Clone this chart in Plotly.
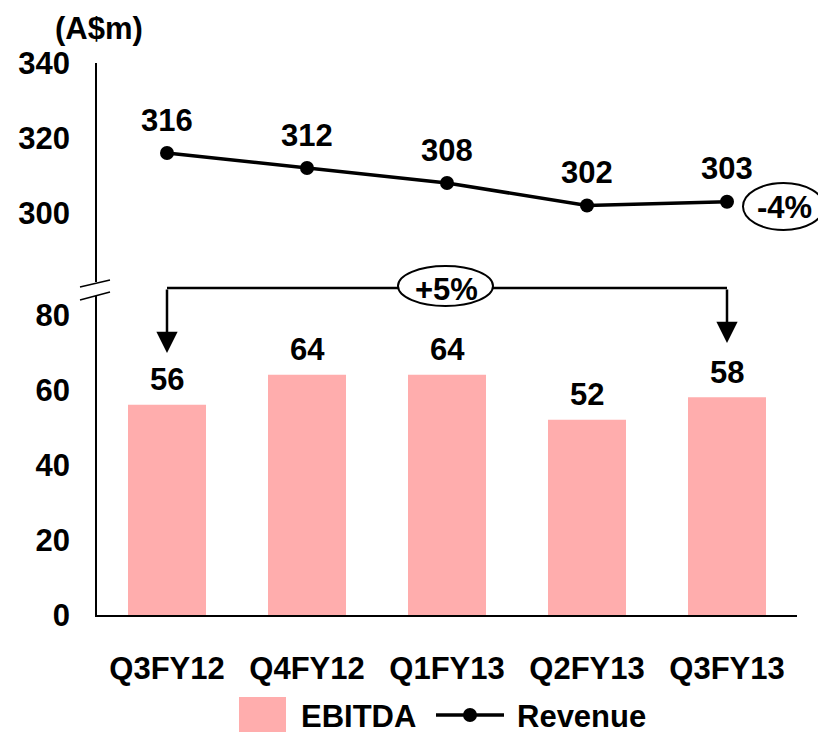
import plotly.graph_objects as go

categories = ["Q3FY12", "Q4FY12", "Q1FY13", "Q2FY13", "Q3FY13"]
ebitda = [56, 64, 64, 52, 58]
revenue = [316, 312, 308, 302, 303]
ebitda_labels = ["56", "64", "64", "52", "58"]
revenue_labels = ["316", "312", "308", "302", "303"]
lower_ticks = [0, 20, 40, 60, 80]
upper_ticks = [300, 320, 340]

FONT = "Liberation Sans, Arial, sans-serif"
BAR = "#FFADAD"
W, H = 826, 734
OFF = 8  # page body margin
PW, PH = 700, 552
L, T = 97 - OFF, 63 - OFF
R, B = W - L - PW, H - T - PH
FS = 31


def px(x):
    return (x - 97) / PW


def py(y):
    return (615 - y) / PH


fig = go.Figure()
fig.add_trace(go.Bar(x=categories, y=ebitda, marker=dict(color=BAR, line=dict(width=0)),
                     xaxis="x", yaxis="y", showlegend=False, hoverinfo="skip"))
fig.add_trace(go.Scatter(x=categories, y=revenue, mode="lines+markers",
                         line=dict(color="black", width=3.5),
                         marker=dict(color="black", size=14),
                         xaxis="x", yaxis="y2", showlegend=False, hoverinfo="skip"))

ann = []
bold = dict(family=FONT, size=FS, color="black")


def text_ann(x, y, t, xanchor="center", **kw):
    d = dict(x=x, y=y, text=f"<b>{t}</b>", showarrow=False, xanchor=xanchor,
             yanchor="middle", font=bold)
    d.update(kw)
    return d


for c, v, t in zip(categories, revenue, revenue_labels):
    ann.append(text_ann(c, v, t, xref="x", yref="y2", yshift=33))
for c, v, t in zip(categories, ebitda, ebitda_labels):
    ann.append(text_ann(c, v, t, xref="x", yref="y", yshift=25))

ann.append(text_ann(px(99), py(29), "(A$m)", xref="paper", yref="paper"))

# arrows
ann.append(dict(x=0, y=py(353), xref="x", yref="paper", ax=0, ay=-(353 - 288),
                axref="pixel", ayref="pixel", text="", showarrow=True,
                arrowhead=2, arrowsize=1.7, arrowwidth=2.5, arrowcolor="black"))
ann.append(dict(x=4, y=py(343), xref="x", yref="paper", ax=0, ay=-(343 - 288),
                axref="pixel", ayref="pixel", text="", showarrow=True,
                arrowhead=2, arrowsize=1.7, arrowwidth=2.5, arrowcolor="black"))

# ellipse labels
ann.append(text_ann(px(446), py(289), "+5%", xref="paper", yref="paper"))
ann.append(text_ann(px(784), py(207), "-4%", xref="paper", yref="paper"))

# legend text
ann.append(text_ann(px(299), py(716), "EBITDA", xanchor="left", xref="paper", yref="paper"))
ann.append(text_ann(px(515), py(716), "Revenue", xanchor="left", xref="paper", yref="paper"))

shapes = []
# bracket horizontal
shapes.append(dict(type="line", xref="x", yref="paper", x0=0, x1=4, y0=py(288), y1=py(288),
                   line=dict(color="black", width=2.5)))
shapes.append(dict(type="circle", xref="paper", yref="paper", x0=px(398), x1=px(493),
                   y0=py(306), y1=py(266), fillcolor="white", line=dict(color="black", width=2)))
shapes.append(dict(type="circle", xref="paper", yref="paper", x0=px(743), x1=px(824),
                   y0=py(230), y1=py(183), fillcolor="white", line=dict(color="black", width=2)))
# axis break marks
shapes.append(dict(type="line", xref="paper", yref="paper", x0=px(80), x1=px(110),
                   y0=py(287), y1=py(280), line=dict(color="black", width=1.5)))
shapes.append(dict(type="line", xref="paper", yref="paper", x0=px(80), x1=px(110),
                   y0=py(300), y1=py(292), line=dict(color="black", width=1.5)))
# legend swatches
shapes.append(dict(type="rect", xref="paper", yref="paper", x0=px(239), x1=px(286),
                   y0=py(732), y1=py(697), fillcolor=BAR, line=dict(width=0)))
shapes.append(dict(type="line", xref="paper", yref="paper", x0=px(436), x1=px(504),
                   y0=py(715), y1=py(715), line=dict(color="black", width=3.5)))
shapes.append(dict(type="circle", xref="paper", yref="paper", x0=px(463), x1=px(477),
                   y0=py(722), y1=py(708), fillcolor="black", line=dict(color="black", width=0)))

fig.update_layout(
    width=W, height=H, margin=dict(l=L, r=R, t=T, b=B, autoexpand=False),
    paper_bgcolor="white", plot_bgcolor="white",
    font=dict(family=FONT, color="black"),
    bargap=0.443,
    showlegend=False,
    xaxis=dict(type="category", categoryorder="array", categoryarray=categories,
               showline=True, linecolor="black", linewidth=1.5, showgrid=False,
               ticks="", ticklabelstandoff=25, automargin=False,
               tickfont=dict(family=FONT, size=FS, color="black"),
               tickvals=categories, ticktext=[f"<b>{c}</b>" for c in categories],
               anchor="y", fixedrange=True),
    yaxis=dict(domain=[0, py(296)], range=[0, 85], tickvals=lower_ticks,
               ticktext=[f"<b>{v}</b>" for v in lower_ticks], automargin=False,
               showline=True, linecolor="black", linewidth=1.5, showgrid=False,
               zeroline=False, ticks="", ticklabelstandoff=19,
               tickfont=dict(family=FONT, size=FS, color="black"), anchor="x"),
    yaxis2=dict(domain=[py(282), 1], range=[281.6, 340], tickvals=upper_ticks,
                ticktext=[f"<b>{v}</b>" for v in upper_ticks], automargin=False,
                showline=True, linecolor="black", linewidth=1.5, showgrid=False,
                zeroline=False, ticks="", ticklabelstandoff=19,
                tickfont=dict(family=FONT, size=FS, color="black"), anchor="x"),
    annotations=ann,
    shapes=shapes,
)

fig.write_html("out.html")
